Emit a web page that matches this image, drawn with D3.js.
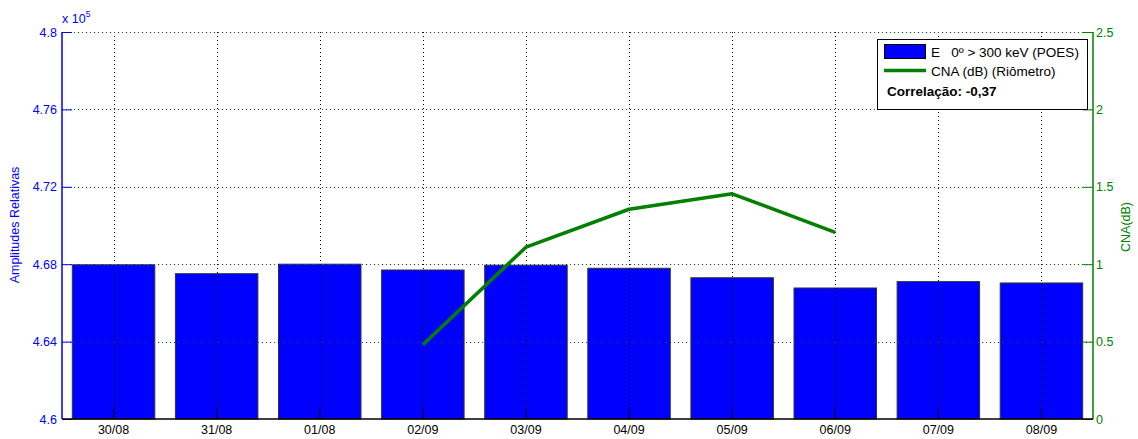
<!DOCTYPE html>
<html><head><meta charset="utf-8">
<script src="https://cdn.jsdelivr.net/npm/d3@7"></script>
<style>body{margin:0;background:#fff;} text{font-family:"Liberation Sans",Arial,sans-serif;}</style>
</head><body>
<svg id="c" width="1138" height="439"></svg>
<script>
const categories = ["30/08","31/08","01/08","02/09","03/09","04/09","05/09","06/09","07/09","08/09"];
const poesValues = [4.6797, 4.6751, 4.6800, 4.6770, 4.6795, 4.6779, 4.6730, 4.6677, 4.6710, 4.6703];
const cnaValues = [null, null, null, 0.48, 1.11, 1.355, 1.455, 1.205, null, null];
const leftTicks = [4.6, 4.64, 4.68, 4.72, 4.76, 4.8];
const rightTicks = [0, 0.5, 1, 1.5, 2, 2.5];
const legendLabels = ["E   0º > 300 keV (POES)", "CNA (dB) (Riômetro)", "Correlação: -0,37"];

const svg = d3.select("#c");
const L = 62, R = 1093, T = 32, B = 419;
const blue = "#0000ff", green = "#008000";
const fs = 12.5;

const x = d3.scaleBand().domain(categories).range([L, R]).paddingInner(0.2).paddingOuter(0.1);
const yL = d3.scaleLinear().domain([4.6, 4.8]).range([B, T]);
const yR = d3.scaleLinear().domain([0, 2.5]).range([B, T]);

// bars
svg.append("g").selectAll("rect").data(poesValues).join("rect")
  .attr("x", (d,i) => x(categories[i]))
  .attr("y", d => yL(d))
  .attr("width", x.bandwidth())
  .attr("height", d => B - yL(d))
  .attr("fill", blue).attr("stroke", "#333").attr("stroke-width", 1);

// grids
const grid = svg.append("g");
grid.selectAll(".vg").data(categories).join("line")
  .attr("x1", d => Math.round(x(d) + x.bandwidth()/2)+0.5).attr("x2", d => Math.round(x(d) + x.bandwidth()/2)+0.5)
  .attr("y1", T).attr("y2", B)
  .attr("stroke", "#000").attr("stroke-dasharray", "1,3").attr("stroke-width", 1);
grid.selectAll(".hgl").data(leftTicks.slice(1)).join("line")
  .attr("x1", L).attr("x2", R).attr("y1", d => Math.round(yL(d))+0.5).attr("y2", d => Math.round(yL(d))+0.5)
  .attr("stroke", blue).attr("stroke-dasharray", "1,7").attr("stroke-width", 1);
grid.selectAll(".hgr").data(rightTicks.slice(1)).join("line")
  .attr("x1", L).attr("x2", R).attr("y1", d => Math.round(yR(d))+0.5).attr("y2", d => Math.round(yR(d))+0.5)
  .attr("stroke", green).attr("stroke-dasharray", "1,7").attr("stroke-dashoffset", 4).attr("stroke-width", 1);

// line
const line = d3.line().defined(d => d != null)
  .x((d,i) => x(categories[i]) + x.bandwidth()/2).y(d => yR(d));
svg.append("path").datum(cnaValues).attr("d", line)
  .attr("fill", "none").attr("stroke", green).attr("stroke-width", 3.5).attr("stroke-linejoin", "round");

// axes
const axL = d3.axisLeft(yL).tickValues(leftTicks).tickSize(-10).tickPadding(5).tickFormat(d3.format("~g"));
const gL = svg.append("g").attr("transform", `translate(${L},0)`).call(axL);
gL.select(".domain").attr("stroke", blue).attr("d", `M0,${B}V${T}`);
gL.selectAll(".tick line").attr("stroke", blue);
gL.selectAll("text").attr("fill", blue).attr("font-size", fs).attr("x", -5);

const axR = d3.axisRight(yR).tickValues(rightTicks).tickSize(-10).tickPadding(4).tickFormat(d3.format("~g"));
const gR = svg.append("g").attr("transform", `translate(${R},0)`).call(axR);
gR.select(".domain").attr("stroke", green).attr("d", `M0,${B}V${T}`);
gR.selectAll(".tick line").attr("stroke", green);
gR.selectAll("text").attr("fill", green).attr("font-size", fs).attr("x", 3);

const axB = d3.axisBottom(x).tickSize(-10).tickPadding(6);
const gB = svg.append("g").attr("transform", `translate(0,${B})`).call(axB);
gB.select(".domain").attr("stroke", "#000").attr("d", `M${L},0H${R}`);
gB.selectAll(".tick line").attr("stroke", "#000");
gB.selectAll("text").attr("fill", "#000").attr("font-size", fs).attr("dy", "0.71em").attr("y", 6);
svg.selectAll(".domain").attr("stroke-width", 1.5);

// exponent
const ex = svg.append("text").attr("x", 62).attr("y", 23).attr("fill", blue).attr("font-size", 12.5);
ex.append("tspan").text("x 10");
ex.append("tspan").attr("font-size", 8.5).attr("dy", -6).text("5");

// axis labels
svg.append("text").attr("transform", `translate(19,225) rotate(-90)`)
  .attr("text-anchor", "middle").attr("fill", blue).attr("font-size", 12.5).text("Amplitudes Relativas");
svg.append("text").attr("transform", `translate(1130,227) rotate(-90)`)
  .attr("text-anchor", "middle").attr("fill", green).attr("font-size", 12.5).text("CNA(dB)");

// legend
const lg = svg.append("g");
lg.append("rect").attr("x", 877.5).attr("y", 39.5).attr("width", 210).attr("height", 70)
  .attr("fill", "#fff").attr("stroke", "#000").attr("stroke-width", 1);
lg.append("rect").attr("x", 884.5).attr("y", 44.5).attr("width", 41).attr("height", 14)
  .attr("fill", blue).attr("stroke", "#000");
lg.append("text").attr("x", 931).attr("y", 57).attr("font-size", 13.5).attr("fill", "#000")
  .style("white-space", "pre").text(legendLabels[0]);
lg.append("line").attr("x1", 884).attr("x2", 926).attr("y1", 70.5).attr("y2", 70.5)
  .attr("stroke", green).attr("stroke-width", 3.5);
lg.append("text").attr("x", 931).attr("y", 76).attr("font-size", 13.5).attr("fill", "#000").text(legendLabels[1]);
lg.append("text").attr("x", 887).attr("y", 96).attr("font-size", 13.5).attr("font-weight", "bold").attr("fill", "#000").text(legendLabels[2]);
</script>
</body></html>
